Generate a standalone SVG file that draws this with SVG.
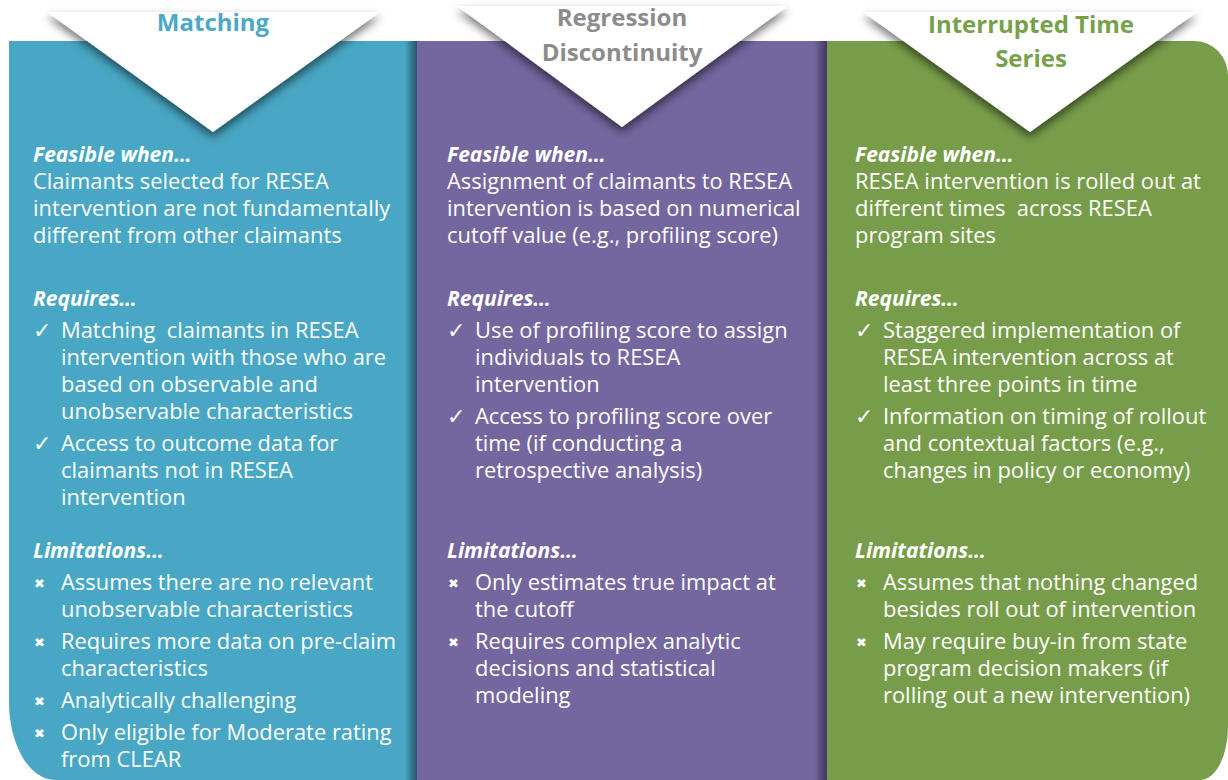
<svg xmlns="http://www.w3.org/2000/svg" width="1228" height="780" viewBox="0 0 1228 780">
<defs>
<filter id="tshadow" x="-20%" y="-20%" width="140%" height="160%">
<feDropShadow dx="0" dy="5" stdDeviation="5" flood-color="#000" flood-opacity="0.55"/>
</filter>
<linearGradient id="edge" x1="0" y1="0" x2="1" y2="0">
<stop offset="0" stop-color="#000" stop-opacity="0"/>
<stop offset="1" stop-color="#1a1030" stop-opacity="0.55"/>
</linearGradient>
<style>
.t{font-family:"Open Sans",Lato,sans-serif;font-size:21.9px;fill:#ffffff;white-space:pre}
.h{font-family:"Open Sans",Lato,sans-serif;font-size:21px;font-weight:bold;font-style:italic;fill:#ffffff}
.title{font-family:"Open Sans",Lato,sans-serif;font-size:24px;font-weight:bold;text-anchor:middle}
.ck{font-family:"DejaVu Sans",sans-serif;font-size:22px;fill:#ffffff}
.x{font-family:"DejaVu Sans",sans-serif;font-size:13px;font-weight:bold;fill:#ffffff}
</style>
</defs>
<rect width="1228" height="780" fill="#ffffff"/>

<g id="matching">
<path d="M9,41 H417 V780 H55 A46,78 0 0 1 9,702 Z" fill="#48A7C4"/>
<rect x="405" y="41" width="12" height="739" fill="url(#edge)"/>
<polygon points="47,12 380,12 213,132" fill="#ffffff" filter="url(#tshadow)"/>
<text class="title" x="213" y="31" fill="#4DA8C6">Matching</text>
<text class="h" x="33" y="162">Feasible when…</text>
<text class="t" x="33" y="189">Claimants selected for RESEA</text>
<text class="t" x="33" y="216">intervention are not fundamentally</text>
<text class="t" x="33" y="243">different from other claimants</text>
<text class="h" x="33" y="306">Requires…</text>
<text class="ck" x="33" y="338">✓</text>
<text class="t" x="61" y="338">Matching  claimants in RESEA</text>
<text class="t" x="61" y="365">intervention with those who are</text>
<text class="t" x="61" y="392">based on observable and</text>
<text class="t" x="61" y="419">unobservable characteristics</text>
<text class="ck" x="33" y="451">✓</text>
<text class="t" x="61" y="451">Access to outcome data for</text>
<text class="t" x="61" y="478">claimants not in RESEA</text>
<text class="t" x="61" y="505">intervention</text>
<text class="h" x="33" y="558">Limitations…</text>
<text class="x" x="34" y="588">✖</text>
<text class="t" x="61" y="590">Assumes there are no relevant</text>
<text class="t" x="61" y="617">unobservable characteristics</text>
<text class="x" x="34" y="647">✖</text>
<text class="t" x="61" y="649">Requires more data on pre-claim</text>
<text class="t" x="61" y="676">characteristics</text>
<text class="x" x="34" y="706">✖</text>
<text class="t" x="61" y="708">Analytically challenging</text>
<text class="x" x="34" y="738">✖</text>
<text class="t" x="61" y="740">Only eligible for Moderate rating</text>
<text class="t" x="61" y="767">from CLEAR</text>
</g>

<g id="regression">
<rect x="417" y="41" width="410" height="739" fill="#74669F"/>
<rect x="815" y="41" width="12" height="739" fill="url(#edge)"/>
<polygon points="457,6 788,6 622,127" fill="#ffffff" filter="url(#tshadow)"/>
<text class="title" x="622" y="26" fill="#8C8C8C">Regression</text>
<text class="title" x="622" y="61" fill="#8C8C8C">Discontinuity</text>
<text class="h" x="447" y="162">Feasible when…</text>
<text class="t" x="447" y="189">Assignment of claimants to RESEA</text>
<text class="t" x="447" y="216">intervention is based on numerical</text>
<text class="t" x="447" y="243">cutoff value (e.g., profiling score)</text>
<text class="h" x="447" y="306">Requires…</text>
<text class="ck" x="447" y="338">✓</text>
<text class="t" x="475" y="338">Use of profiling score to assign</text>
<text class="t" x="475" y="365">individuals to RESEA</text>
<text class="t" x="475" y="392">intervention</text>
<text class="ck" x="447" y="424">✓</text>
<text class="t" x="475" y="424">Access to profiling score over</text>
<text class="t" x="475" y="451">time (if conducting a</text>
<text class="t" x="475" y="478">retrospective analysis)</text>
<text class="h" x="447" y="558">Limitations…</text>
<text class="x" x="448" y="588">✖</text>
<text class="t" x="475" y="590">Only estimates true impact at</text>
<text class="t" x="475" y="617">the cutoff</text>
<text class="x" x="448" y="647">✖</text>
<text class="t" x="475" y="649">Requires complex analytic</text>
<text class="t" x="475" y="676">decisions and statistical</text>
<text class="t" x="475" y="703">modeling</text>
</g>

<g id="its">
<path d="M827,41 H1195 A33,35 0 0 1 1228,76 V727 A28,53 0 0 1 1200,780 H827 Z" fill="#789D4A"/>
<polygon points="863,12 1197,12 1030,132" fill="#ffffff" filter="url(#tshadow)"/>
<text class="title" x="1031" y="33" fill="#77A04B">Interrupted Time</text>
<text class="title" x="1031" y="67" fill="#77A04B">Series</text>
<text class="h" x="855" y="162">Feasible when…</text>
<text class="t" x="855" y="189">RESEA intervention is rolled out at</text>
<text class="t" x="855" y="216">different times  across RESEA</text>
<text class="t" x="855" y="243">program sites</text>
<text class="h" x="855" y="306">Requires…</text>
<text class="ck" x="855" y="338">✓</text>
<text class="t" x="883" y="338">Staggered implementation of</text>
<text class="t" x="883" y="365">RESEA intervention across at</text>
<text class="t" x="883" y="392">least three points in time</text>
<text class="ck" x="855" y="424">✓</text>
<text class="t" x="883" y="424">Information on timing of rollout</text>
<text class="t" x="883" y="451">and contextual factors (e.g.,</text>
<text class="t" x="883" y="478">changes in policy or economy)</text>
<text class="h" x="855" y="558">Limitations…</text>
<text class="x" x="856" y="588">✖</text>
<text class="t" x="883" y="590">Assumes that nothing changed</text>
<text class="t" x="883" y="617">besides roll out of intervention</text>
<text class="x" x="856" y="647">✖</text>
<text class="t" x="883" y="649">May require buy-in from state</text>
<text class="t" x="883" y="676">program decision makers (if</text>
<text class="t" x="883" y="703">rolling out a new intervention)</text>
</g>
<g id="connectors"/>
</svg>
